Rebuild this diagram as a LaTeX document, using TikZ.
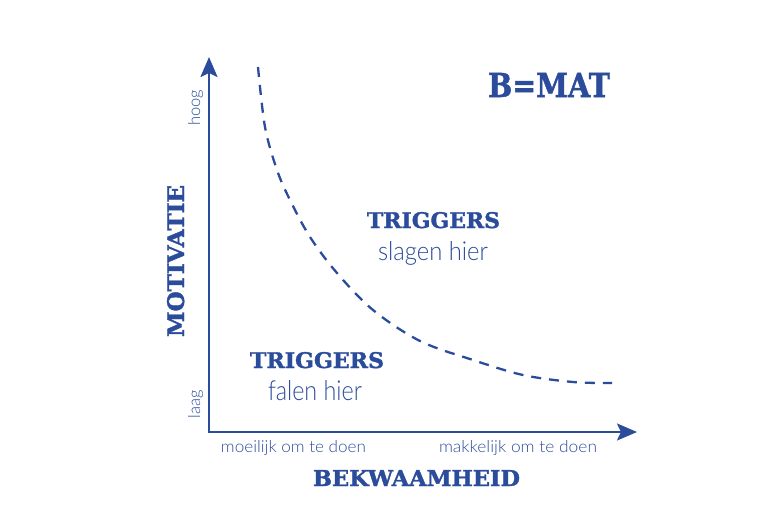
\documentclass[tikz,border=0pt]{standalone}
\usepackage{fontspec}
\usepackage{graphicx}
\setmainfont{Lato Light}
\newfontfamily\slabfont{DejaVu Serif}[BoldFeatures={FakeBold=1.6}]
\usetikzlibrary{arrows.meta}
\definecolor{bmblue}{HTML}{2B4B9B}
\newcommand{\fitto}[3]{\resizebox{#1pt}{#2pt}{#3}}
\newcommand{\slabtxt}[1]{{\slabfont\bfseries #1}}
\tikzset{
  axisline/.style={draw=bmblue, line width=2.2pt, line join=miter,
    arrows={Stealth[length=20pt,width=17pt,inset=4pt]-Stealth[length=20pt,width=17pt,inset=4pt]}},
  curveline/.style={draw=bmblue, line width=2.3pt, dash pattern=on 10pt off 8pt},
  lbl/.style={inner sep=0pt, outer sep=0pt, text=bmblue},
}
\begin{document}
\begin{tikzpicture}[x=1pt,y=-1pt]
\useasboundingbox (0,0) rectangle (770,514);
% axes
\coordinate (o) at (209,432);
\coordinate (ytop) at (209,57);
\coordinate (xend) at (637,432);
\draw[axisline] (ytop) -- (o) -- (xend);
% dashed curve
\draw[curveline] plot[smooth, tension=0.55] coordinates {
  (258,67) (265,127) (277,170) (290,200) (310,237) (337,273) (373,310)
  (420,341) (473,360) (523,375) (573,382) (612,383)};
% texts
\node[lbl, anchor=base] (bmat) at (549,97) {\fitto{122}{24}{\slabtxt{B=MAT}}};
\node[lbl, anchor=base] (trigtop) at (433.5,228) {\fitto{133}{16}{\slabtxt{TRIGGERS}}};
\node[lbl, anchor=base] (slagen) at (433,260) {\fitto{110}{19}{slagen hier}};
\node[lbl, anchor=base] (trigbot) at (317,368) {\fitto{134}{16}{\slabtxt{TRIGGERS}}};
\node[lbl, anchor=base] (falen) at (315,400) {\fitto{94}{20}{falen hier}};
\node[lbl, anchor=base] (moei) at (293.5,452) {\fitto{145}{12}{moeilijk om te doen}};
\node[lbl, anchor=base] (makk) at (518,452) {\fitto{158}{12}{makkelijk om te doen}};
\node[lbl, anchor=base] (bekw) at (416.5,486) {\fitto{207}{16}{\slabtxt{BEKWAAMHEID}}};
\node[lbl, anchor=base, rotate=90] (motiv) at (184,261) {\fitto{152}{17}{\slabtxt{MOTIVATIE}}};
\node[lbl, anchor=base, rotate=90] (hoog) at (200,108) {\resizebox{!}{12pt}{hoog}};
\node[lbl, anchor=base, rotate=90] (laag) at (200,404) {\resizebox{!}{12pt}{laag}};
\end{tikzpicture}
\end{document}
